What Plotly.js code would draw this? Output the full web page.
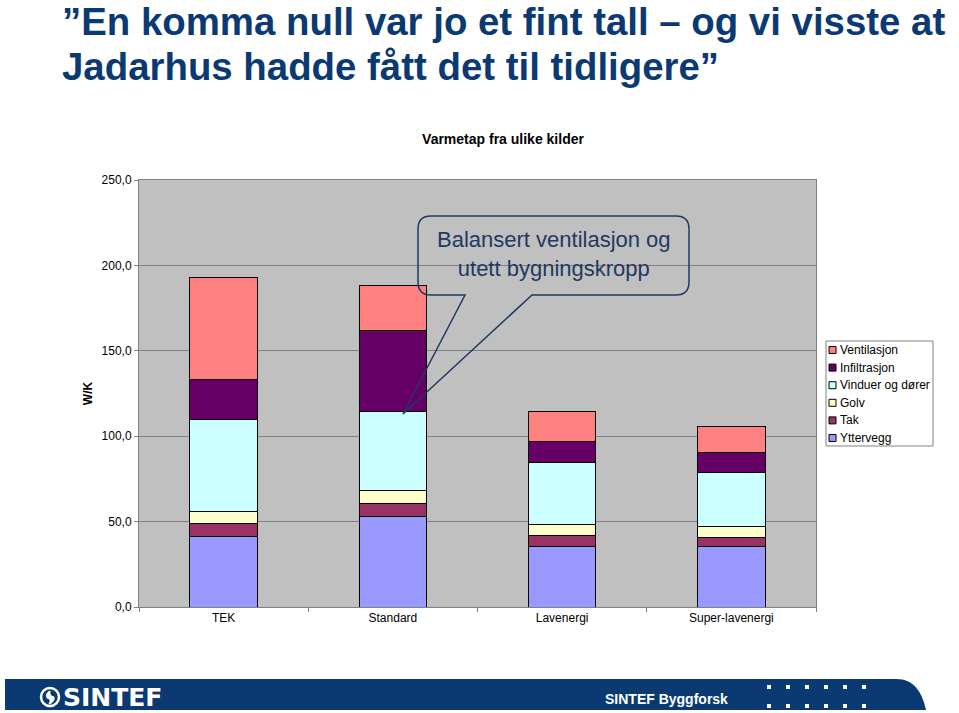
<!DOCTYPE html>
<html>
<head>
<meta charset="utf-8">
<script src="https://cdn.plot.ly/plotly-3.0.1.min.js"></script>
<style>html,body{margin:0;padding:0;background:#fff;}#chart{width:959px;height:713px;}</style>
</head>
<body>
<div id="chart"></div>
<script>
// ---- data ----
const categories = ['TEK', 'Standard', 'Lavenergi', 'Super-lavenergi'];
const yttervegg    = [41.4, 53.1, 35.6, 35.6];
const tak          = [7.5, 7.6, 6.1, 5.1];
const golv         = [7.2, 7.3, 6.4, 6.4];
const vinduer      = [53.6, 46.2, 36.6, 31.8];
const infiltrasjon = [23.4, 47.6, 12.0, 11.7];
const ventilasjon  = [59.9, 26.7, 17.9, 15.0];
const seriesNames  = ['Yttervegg', 'Tak', 'Golv', 'Vinduer og dører', 'Infiltrasjon', 'Ventilasjon'];
const seriesValues = [yttervegg, tak, golv, vinduer, infiltrasjon, ventilasjon];
const seriesColors = ['#9999FF', '#993366', '#FFFFCC', '#CCFFFF', '#660066', '#FF8080'];
const yTickVals    = [0, 50, 100, 150, 200, 250];
const headingLines = ['\u201DEn komma null var jo et fint tall \u2013 og vi visste at', 'Jadarhus hadde fått det til tidligere\u201D'];
const chartTitle   = 'Varmetap fra ulike kilder';
const yTitle       = 'W/K';
const calloutText  = 'Balansert ventilasjon og<br>utett bygningskropp';

// ---- layout geometry ----
const W = 959, H = 713;
const L = 139, R = 816, T = 180, B = 607;
const px = x => (x - L) / (R - L);
const py = y => (B - y) / (B - T);
const navy = '#0b3a73';
const arial = '"Liberation Sans", Arial, sans-serif';

const traces = seriesNames.map((n, i) => ({
  type: 'bar', name: n, x: categories, y: seriesValues[i],
  marker: {color: seriesColors[i], line: {color: '#000', width: 1}},
  showlegend: false, hoverinfo: 'x+y+name'
}));

const shapes = [];
const annotations = [];

// heading
headingLines.forEach((t, i) => annotations.push({
  xref: 'paper', yref: 'paper', x: px(60), y: py(i === 0 ? 21 : 67), xanchor: 'left', yanchor: 'middle',
  text: '<b>' + t + '</b>', showarrow: false,
  font: {family: arial, size: 38.4, color: navy}
}));

// callout
function P(x, y) { return px(x).toFixed(5) + ',' + py(y).toFixed(5); }
const cl = 418, cr = 689, ct = 216, cb = 295, rr = 13;
const cpath = 'M' + P(cl + rr, ct) + ' L' + P(cr - rr, ct) + ' Q' + P(cr, ct) + ' ' + P(cr, ct + rr) +
  ' L' + P(cr, cb - rr) + ' Q' + P(cr, cb) + ' ' + P(cr - rr, cb) + ' L' + P(532, cb) + ' L' + P(403, 414) +
  ' L' + P(465, cb) + ' L' + P(cl + rr, cb) + ' Q' + P(cl, cb) + ' ' + P(cl, cb - rr) + ' L' + P(cl, ct + rr) +
  ' Q' + P(cl, ct) + ' ' + P(cl + rr, ct) + ' Z';
shapes.push({type: 'path', xref: 'paper', yref: 'paper', path: cpath, line: {color: '#1F3A60', width: 1.5}, fillcolor: 'rgba(0,0,0,0)', layer: 'above'});
annotations.push({xref: 'paper', yref: 'paper', x: px(554), y: py(254), xanchor: 'center', yanchor: 'middle',
  text: calloutText, showarrow: false, align: 'center', font: {family: arial, size: 22, color: '#1F3A60'}});

// legend (manual, from series arrays)
shapes.push({type: 'rect', xref: 'paper', yref: 'paper', x0: px(826), x1: px(933), y0: py(341), y1: py(446),
  line: {color: '#808080', width: 1}, fillcolor: '#fff'});
for (let k = 0; k < seriesNames.length; k++) {
  const i = seriesNames.length - 1 - k;
  const yc = 350 + k * 17.6;
  shapes.push({type: 'rect', xref: 'paper', yref: 'paper', x0: px(829), x1: px(836), y0: py(yc - 3.5), y1: py(yc + 3.5),
    line: {color: '#000', width: 1}, fillcolor: seriesColors[i]});
  annotations.push({xref: 'paper', yref: 'paper', x: px(838), y: py(yc), xanchor: 'left', yanchor: 'middle',
    text: seriesNames[i], showarrow: false, font: {family: arial, size: 12, color: '#000'}});
}

// footer banner
shapes.push({type: 'path', xref: 'paper', yref: 'paper',
  path: 'M' + P(5, 679) + ' L' + P(896, 679) + ' C' + P(914, 679) + ' ' + P(922, 692) + ' ' + P(926, 710) + ' L' + P(5, 710) + ' Z',
  fillcolor: navy, line: {width: 0}});
// logo
shapes.push({type: 'circle', xref: 'paper', yref: 'paper', x0: px(41), x1: px(59), y0: py(688), y1: py(706), line: {color: '#fff', width: 2.5}, fillcolor: navy});
shapes.push({type: 'path', xref: 'paper', yref: 'paper',
  path: 'M' + P(50, 691) + ' Q' + P(45, 693) + ' ' + P(47, 698) + ' Q' + P(52, 699) + ' ' + P(49, 704) + ' Q' + P(55, 702) + ' ' + P(54, 697) + ' Q' + P(49, 696) + ' ' + P(50, 691) + ' Z',
  fillcolor: '#fff', line: {color: '#fff', width: 1}});
annotations.push({xref: 'paper', yref: 'paper', x: px(61), y: py(697), xanchor: 'left', yanchor: 'middle',
  text: '<b>SINTEF</b>', showarrow: false, font: {family: '"DejaVu Sans", Verdana, sans-serif', size: 25, color: '#fff'}});
annotations.push({xref: 'paper', yref: 'paper', x: px(603), y: py(699), xanchor: 'left', yanchor: 'middle',
  text: '<b>SINTEF Byggforsk</b>', showarrow: false, font: {family: arial, size: 14, color: '#fff'}});
for (let r = 0; r < 2; r++) {
  for (let c = 0; c < 6; c++) {
    const x = 769 + c * 19, y = r === 0 ? 687 : 706;
    shapes.push({type: 'rect', xref: 'paper', yref: 'paper', x0: px(x - 2), x1: px(x + 2), y0: py(y - 2), y1: py(y + 2),
      fillcolor: '#fff', line: {width: 0}});
  }
}

const layout = {
  width: W, height: H,
  margin: {l: L, r: W - R, t: T, b: H - B, pad: 0},
  paper_bgcolor: '#fff', plot_bgcolor: '#C0C0C0',
  separators: ', ',
  barmode: 'stack', bargap: 0.6,
  font: {family: arial, size: 12, color: '#000'},
  title: {text: '<b>' + chartTitle + '</b>', xref: 'container', yref: 'container', x: 503 / W, y: 1 - 139 / H,
    xanchor: 'center', yanchor: 'middle', font: {family: arial, size: 14, color: '#000'}},
  xaxis: {type: 'category', showline: true, mirror: true, linecolor: '#808080', linewidth: 1,
    ticks: 'outside', tickson: 'boundaries', ticklen: 4, tickcolor: '#808080',
    tickfont: {family: arial, size: 12, color: '#000'}, fixedrange: true},
  yaxis: {range: [0, 250], tickvals: yTickVals, tickformat: '.1f', showline: true, mirror: true,
    linecolor: '#808080', linewidth: 1, gridcolor: '#808080', gridwidth: 1, zeroline: false,
    ticks: 'outside', ticklen: 4, tickcolor: '#808080',
    tickfont: {family: arial, size: 12, color: '#000'},
    title: {text: '<b>' + yTitle + '</b>', standoff: 6, font: {family: arial, size: 12, color: '#000'}}, fixedrange: true},
  showlegend: false,
  shapes: shapes, annotations: annotations
};

Plotly.newPlot('chart', traces, layout, {displayModeBar: false, staticPlot: true});
</script>
</body>
</html>
